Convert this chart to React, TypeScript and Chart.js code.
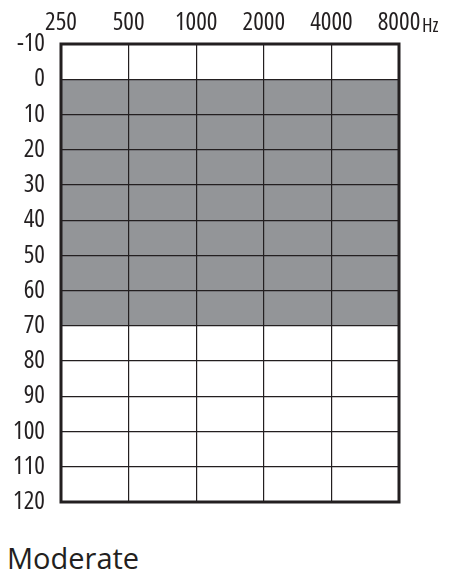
import { useEffect, useRef } from 'react';
import { Chart, registerables } from 'chart.js';

Chart.register(...registerables);

const frequencies = ['250', '500', '1000', '2000', '4000', '8000'];
const rangeTop = [0, 0, 0, 0, 0, 0];
const rangeBottom = [70, 70, 70, 70, 70, 70];
const levelMin = -10;
const levelMax = 120;
const levelStep = 10;
const categoryLabel = 'Moderate';

const INK = '#231f20';
const SHADE = '#939598';
const FAMILY = '"Open Sans", sans-serif';

const framePlugin = {
  id: 'frame',
  afterDraw(chart: Chart) {
    const { ctx, chartArea } = chart;
    ctx.save();
    ctx.strokeStyle = INK;
    ctx.lineWidth = 3;
    ctx.strokeRect(chartArea.left, chartArea.top, chartArea.right - chartArea.left, chartArea.bottom - chartArea.top);
    // unit after the last frequency label
    const x = chart.scales.x;
    const px = x.getPixelForValue(frequencies.length - 1);
    ctx.fillStyle = INK;
    ctx.font = `condensed 20px ${FAMILY}`;
    ctx.textBaseline = 'alphabetic';
    ctx.textAlign = 'left';
    ctx.fillText('Hz', px + 23, 32);
    ctx.restore();
  },
};

export default function App() {
  const canvasRef = useRef<HTMLCanvasElement>(null);

  useEffect(() => {
    if (!canvasRef.current) return;
    const tickFont = { family: FAMILY, size: 25, weight: 'condensed' as any };
    const chart = new Chart(canvasRef.current, {
      type: 'line',
      data: {
        labels: frequencies,
        datasets: [
          {
            data: rangeTop,
            borderWidth: 0,
            pointRadius: 0,
            fill: false,
          },
          {
            data: rangeBottom,
            borderWidth: 0,
            pointRadius: 0,
            fill: '-1',
            backgroundColor: SHADE,
          },
        ],
      },
      options: {
        animation: false,
        responsive: true,
        maintainAspectRatio: false,
        layout: { padding: { left: 0, right: 59, top: 0, bottom: 5 } },
        plugins: {
          legend: { display: false },
          tooltip: { enabled: false },
        },
        scales: {
          x: {
            type: 'category',
            position: 'top',
            offset: false,
            grid: { color: INK, lineWidth: 1.2, drawTicks: false, z: 1 },
            border: { display: false },
            ticks: { color: INK, font: tickFont, padding: 6, maxRotation: 0, autoSkip: false },
            afterFit: (s: any) => { s.height = 44; },
          },
          y: {
            reverse: true,
            min: levelMin,
            max: levelMax,
            grid: { color: INK, lineWidth: 1.2, drawTicks: false, z: 1 },
            border: { display: false },
            ticks: { stepSize: levelStep, color: INK, font: tickFont, padding: 16 },
            afterFit: (s: any) => { s.width = 61; },
          },
        },
      },
      plugins: [framePlugin],
    });
    return () => chart.destroy();
  }, []);

  return (
    <div style={{ position: 'absolute', left: 0, top: 0, width: 458, height: 581, background: '#fff' }}>
      <div style={{ position: 'relative', width: 458, height: 533 }}>
        <canvas ref={canvasRef} />
      </div>
      <div
        style={{
          position: 'absolute',
          left: 7,
          top: 538,
          fontFamily: '"Open Sans", "Noto Sans", sans-serif',
          fontWeight: 400,
          fontSize: 29,
          color: INK,
        }}
      >
        {categoryLabel}
      </div>
    </div>
  );
}
